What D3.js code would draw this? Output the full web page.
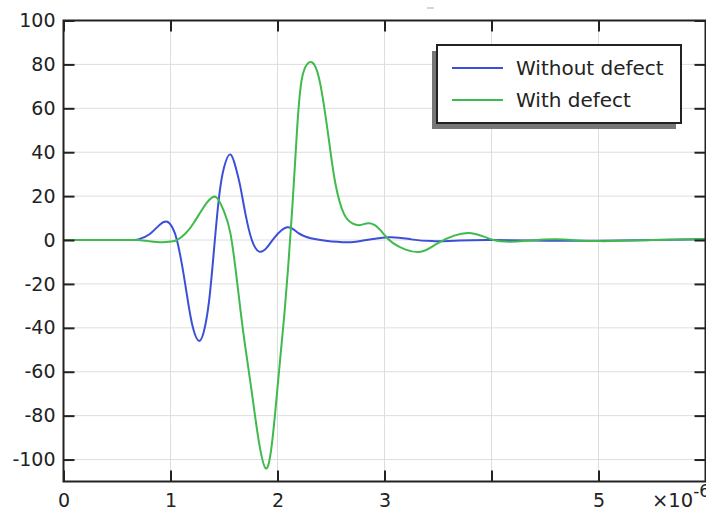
<!DOCTYPE html>
<html>
<head>
<meta charset="utf-8">
<script src="https://cdn.jsdelivr.net/npm/d3@7"></script>
<style>
  body { margin: 0; background: white; }
  svg { display: block; font-family: "DejaVu Sans", sans-serif; }
</style>
</head>
<body>
<div id="container"></div>
<script>
// time in microseconds, signal amplitude
const seriesNames = ["Without defect", "With defect"]
const seriesColors = ["#3b4fd8", "#3fba4c"]

const withoutDefect = [
  [0, 0], [0.3, 0], [0.6, 0], [0.7, 0.3], [0.8, 2.5], [0.9, 7], [0.97, 8.3], [1.02, 5.5], [1.06, 0],
  [1.11, -12], [1.16, -27], [1.21, -40], [1.27, -46], [1.32, -40], [1.36, -28], [1.4, -8],
  [1.45, 18], [1.5, 33], [1.56, 39], [1.61, 33], [1.65, 25], [1.7, 12], [1.76, 0], [1.83, -5.3],
  [1.9, -3.5], [1.97, 1], [2.09, 5.8], [2.2, 3], [2.31, 0.8], [2.45, -0.3], [2.65, -1],
  [2.8, -0.2], [3.05, 1.3], [3.25, 0.3], [3.45, -0.5], [3.7, -0.2], [4.0, 0], [4.5, -0.3],
  [5.0, -0.3], [5.5, 0], [6.0, 0.3]
]

const withDefect = [
  [0, 0], [0.3, 0], [0.6, 0], [0.7, 0], [0.8, -0.5], [0.92, -1], [1.0, -0.7], [1.06, 0], [1.14, 3], [1.22, 8],
  [1.34, 17], [1.43, 19.4], [1.5, 13], [1.56, 3], [1.62, -18], [1.68, -42], [1.75, -66],
  [1.82, -90], [1.89, -104], [1.95, -92], [2.01, -62], [2.06, -36], [2.1, -12], [2.14, 16],
  [2.18, 48], [2.23, 74], [2.32, 81], [2.4, 71], [2.48, 45.7], [2.54, 26], [2.62, 12],
  [2.7, 7.6], [2.77, 6.8], [2.86, 7.6], [2.96, 4.6], [3.08, -1.4], [3.31, -5.5], [3.5, -1.4],
  [3.78, 3.2], [4.02, 0], [4.3, -0.5], [4.6, 0.3], [5.0, -0.5], [5.5, 0], [6.0, 0.5]
]

const xTicks = [0, 1, 2, 3, 4, 5, 6]
const xTickLabels = ["0", "1", "2", "3", "", "5", ""]
const yTicks = [-100, -80, -60, -40, -20, 0, 20, 40, 60, 80, 100]

const w = 706, h = 511
const mLeft = 63.5, mRight = 705.5, mTop = 20.5, mBottom = 481.5

const svg = d3.select("#container").append("svg").attr("width", w).attr("height", h)

const x = d3.scaleLinear().domain([0, 6]).range([mLeft, mRight])
const y = d3.scaleLinear().domain([-110, 100]).range([mBottom, mTop])

// grid
svg.append("g").selectAll("line").data(xTicks.slice(1, -1)).enter().append("line")
  .attr("x1", d => x(d)).attr("x2", d => x(d)).attr("y1", mTop).attr("y2", mBottom)
  .attr("stroke", "#dedede").attr("stroke-width", 1)
svg.append("g").selectAll("line").data(yTicks.slice(0, -1)).enter().append("line")
  .attr("x1", mLeft).attr("x2", mRight).attr("y1", d => y(d)).attr("y2", d => y(d))
  .attr("stroke", "#dedede").attr("stroke-width", 1)

// curves
const line = d3.line().x(d => x(d[0])).y(d => y(d[1])).curve(d3.curveNatural)
;[withoutDefect, withDefect].forEach((data, i) => {
  svg.append("path").datum(data).attr("d", line).attr("fill", "none")
    .attr("stroke", seriesColors[i]).attr("stroke-width", 2)
})

// axes, ticks pointing inward
function styleAxis(g) {
  g.selectAll(".domain").remove()
  g.selectAll("line").attr("stroke", "#222").attr("stroke-width", 2)
  g.selectAll("text").attr("fill", "#222").attr("font-size", 19).attr("font-family", "DejaVu Sans")
}
svg.append("g").attr("transform", `translate(${mLeft},0)`)
  .call(d3.axisLeft(y).tickValues(yTicks).tickSizeInner(-11).tickSizeOuter(0).tickPadding(8).tickFormat(d => String(d)))
  .call(styleAxis)
svg.append("g").attr("transform", `translate(${mRight},0)`)
  .call(d3.axisRight(y).tickValues(yTicks).tickSizeInner(-11).tickSizeOuter(0).tickFormat(""))
  .call(styleAxis)
svg.append("g").attr("transform", `translate(0,${mBottom})`)
  .call(d3.axisBottom(x).tickValues(xTicks).tickSizeInner(-11).tickSizeOuter(0).tickPadding(12).tickFormat((d, i) => xTickLabels[i]))
  .call(styleAxis)
svg.append("g").attr("transform", `translate(0,${mTop})`)
  .call(d3.axisTop(x).tickValues(xTicks).tickSizeInner(-11).tickSizeOuter(0).tickFormat(""))
  .call(styleAxis)

// frame
svg.append("rect").attr("x", mLeft).attr("y", mTop).attr("width", mRight - mLeft).attr("height", mBottom - mTop)
  .attr("fill", "none").attr("stroke", "#222").attr("stroke-width", 2)

// exponent label, clipped by the right edge as in the original
const expo = svg.append("text").attr("x", 652).attr("y", 507).attr("font-size", 19.5).attr("fill", "#222")
expo.append("tspan").text("×10")
expo.append("tspan").attr("dy", -10).attr("font-size", 17).text("-6")

// faint mark above the frame
svg.append("line").attr("x1", 427).attr("x2", 434).attr("y1", 8).attr("y2", 8).attr("stroke", "#c8c8c8").attr("stroke-width", 1.5)

// legend with shadow
const legend = svg.append("g")
legend.append("rect").attr("x", 432).attr("y", 51).attr("width", 244).attr("height", 78).attr("fill", "#777")
legend.append("rect").attr("x", 437).attr("y", 45).attr("width", 244).attr("height", 78)
  .attr("fill", "white").attr("stroke", "#222").attr("stroke-width", 2)
seriesNames.forEach((name, i) => {
  const ly = 68 + i * 32
  legend.append("line").attr("x1", 452).attr("x2", 503).attr("y1", ly).attr("y2", ly)
    .attr("stroke", seriesColors[i]).attr("stroke-width", 2)
  legend.append("text").attr("x", 516).attr("y", ly + 7).attr("font-size", 20).attr("fill", "#222").text(name)
})
</script>
</body>
</html>
